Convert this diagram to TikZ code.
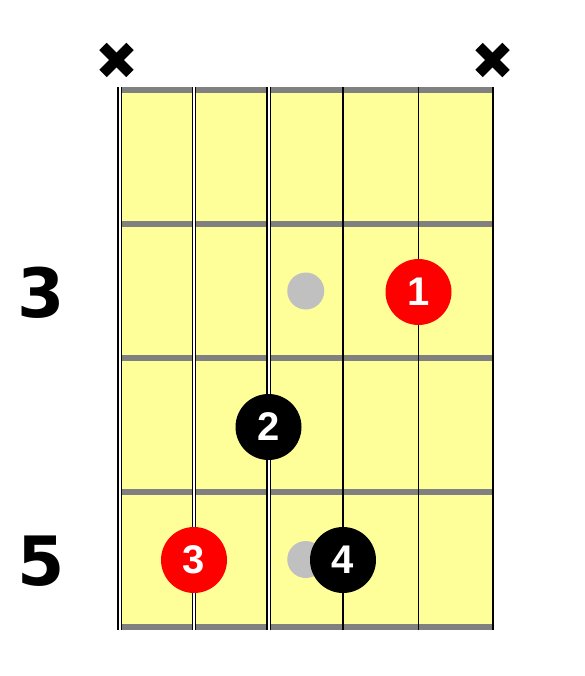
\documentclass[tikz,border=0pt]{standalone}
\usepackage{fontspec}
\setmainfont{Liberation Sans}
\newfontfamily\labelfont{DejaVu Sans}
\definecolor{board}{HTML}{FFFF99}
\definecolor{fretgray}{HTML}{808080}
\definecolor{dotgray}{HTML}{C0C0C0}
\definecolor{fingerred}{HTML}{FF0000}
\begin{document}
\begin{tikzpicture}[x=1pt,y=1pt,
  fretline/.style={draw=fretgray,line width=6pt},
  woundouter/.style={draw=black,line width=4.5pt},
  woundinner/.style={draw=white,line width=2pt},
  plainstring/.style={draw=black,line width=1.3pt},
  finger/.style={circle,minimum size=66pt,inner sep=0pt,text=white,
    font=\fontsize{40}{40}\selectfont\bfseries},
  redfinger/.style={finger,fill=fingerred},
  blackfinger/.style={finger,fill=black},
  marker/.style={circle,fill=dotgray,minimum size=37pt,inner sep=0pt},
  fretnum/.style={font=\labelfont\fontsize{68}{68}\selectfont\bfseries,inner sep=0pt},
  mute/.style={line width=10.5pt,draw=black}
]
\useasboundingbox (0,0) rectangle (584,-676);
% fingerboard
\fill[board] (119.5,-90) rectangle (493,-627);
% frets
\foreach \y [count=\i] in {90,224,358,492,627}
  \draw[fretline] (119.5,-\y) -- (493,-\y);
% wound strings
\foreach \x in {119.5,194,268.5}{
  \draw[woundouter] (\x,-87) -- (\x,-630);
  \draw[woundinner] (\x,-87) -- (\x,-630);
}
% plain strings
\foreach \x in {343,418.5,493}
  \draw[plainstring] (\x,-87) -- (\x,-630);
% mute marks
\coordinate (m1) at (116.5,-60);
\coordinate (m6) at (492.5,-60);
\foreach \m in {m1,m6}{
  \draw[mute] ([shift={(-13.5,-13.5)}]\m) -- ([shift={(13.5,13.5)}]\m);
  \draw[mute] ([shift={(-13.5,13.5)}]\m) -- ([shift={(13.5,-13.5)}]\m);
}
% inlay markers
\node[marker] (g3) at (305.75,-291) {};
\node[marker] (g5) at (305.75,-559.5) {};
% fingers
\node[redfinger] (f1) at (418.5,-292) {1};
\node[blackfinger] (f2) at (268.5,-427) {2};
\node[redfinger] (f3) at (194,-560) {3};
\node[blackfinger] (f4) at (343,-560) {4};
% fret numbers
\node[fretnum] (n3) at (41.5,-293) {3};
\node[fretnum] (n5) at (41.5,-561) {5};
\end{tikzpicture}
\end{document}
